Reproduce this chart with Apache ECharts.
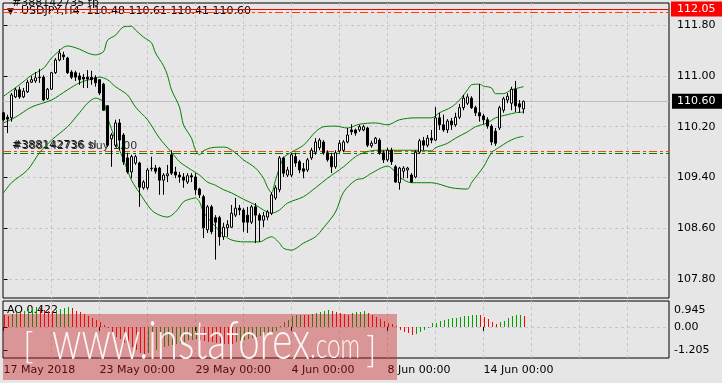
<!DOCTYPE html>
<html>
<head>
<meta charset="utf-8">
<script src="https://cdn.jsdelivr.net/npm/echarts@6.0.0/dist/echarts.min.js"></script>
<style>
html,body{margin:0;padding:0;background:#e6e6e6;}
#chart{width:722px;height:383px;}
</style>
</head>
<body>
<div id="chart"></div>
<script>
// ---------- data ----------
const symbolName = 'USDJPY,H4';
const ohlcLast = [110.48, 110.61, 110.41, 110.60];

const opens = [110.42,110.35,110.34,110.67,110.78,110.67,110.75,110.90,110.92,110.97,
110.98,110.64,110.79,111.05,111.25,111.33,111.28,111.06,111.05,111.00,
110.98,110.98,110.98,110.97,110.94,110.87,110.53,110.01,109.91,110.26,
110.07,109.71,109.49,109.63,109.63,109.24,109.24,109.54,109.55,109.55,
109.36,109.43,109.76,109.49,109.44,109.41,109.33,109.43,109.41,109.22,
109.10,108.58,108.94,108.77,108.77,108.47,108.61,108.62,108.81,108.92,
108.89,108.81,108.70,108.94,108.81,108.73,108.78,108.84,109.08,109.21,
109.71,109.44,109.44,109.73,109.65,109.54,109.52,109.71,109.80,109.87,
109.96,109.79,109.73,109.57,109.82,109.83,109.96,110.15,110.15,110.15,
110.15,110.18,109.90,109.94,109.99,109.79,109.68,109.83,109.57,109.32,
109.50,109.52,109.44,109.41,109.80,109.98,109.91,110.02,109.99,110.34,
110.23,110.15,110.29,110.23,110.35,110.50,110.57,110.65,110.50,110.42,
110.37,110.31,110.21,110.13,110.18,110.46,110.62,110.57,110.79,110.56,
110.48];
const closes = [110.31,110.32,110.70,110.78,110.67,110.76,110.90,110.94,110.97,110.98,
110.62,110.79,111.05,111.25,111.36,111.30,111.05,110.98,110.98,110.94,
110.95,110.95,110.94,110.89,110.73,110.46,109.91,110.07,110.26,109.99,
109.65,109.49,109.73,109.73,109.25,109.33,109.52,109.55,109.50,109.36,
109.44,109.46,109.47,109.44,109.41,109.36,109.43,109.41,109.21,109.13,
108.61,108.94,108.55,108.70,108.47,108.62,108.66,108.84,108.92,108.89,
108.70,108.70,108.94,108.81,108.73,108.80,108.86,109.13,109.24,109.71,
109.47,109.52,109.76,109.63,109.52,109.50,109.68,109.83,109.96,109.99,
109.79,109.68,109.57,109.79,109.94,109.96,110.07,110.12,110.10,110.20,
110.20,109.91,109.94,110.02,109.79,109.68,109.83,109.65,109.33,109.55,
109.55,109.55,109.33,109.80,109.98,109.91,110.02,109.99,110.34,110.23,
110.15,110.29,110.23,110.35,110.50,110.65,110.67,110.50,110.42,110.37,
110.31,110.21,109.96,109.94,110.50,110.64,110.68,110.79,110.53,110.51,
110.60];
const lows = [110.29,110.10,110.28,110.65,110.64,110.65,110.73,110.89,110.89,110.89,
110.61,110.62,110.78,111.03,111.23,111.25,111.03,110.95,110.92,110.86,
110.81,110.81,110.86,110.83,110.70,110.45,109.88,109.57,109.88,109.83,
109.60,109.46,109.39,109.60,108.94,109.21,109.21,109.50,109.46,109.13,
109.13,109.33,109.44,109.39,109.32,109.24,109.30,109.33,109.13,109.08,
108.45,108.53,108.51,108.11,108.33,108.42,108.47,108.61,108.78,108.81,
108.55,108.53,108.67,108.37,108.39,108.62,108.73,108.81,109.05,109.17,
109.41,109.41,109.41,109.57,109.47,109.39,109.49,109.68,109.76,109.83,
109.76,109.65,109.47,109.54,109.79,109.80,109.94,110.07,110.06,110.12,
110.13,109.88,109.87,109.93,109.76,109.63,109.65,109.60,109.32,109.21,
109.39,109.39,109.32,109.39,109.77,109.83,109.88,109.94,109.98,110.15,
110.12,110.10,110.15,110.20,110.32,110.46,110.54,110.48,110.37,110.28,
110.24,110.17,109.91,109.90,110.15,110.42,110.57,110.46,110.43,110.42,
110.41];
const highs = [110.43,110.39,110.73,110.81,110.83,110.81,110.94,111.00,111.06,111.11,
111.01,110.81,111.06,111.28,111.42,111.38,111.30,111.09,111.08,111.05,
111.03,111.09,111.08,111.01,110.95,110.89,110.54,110.10,110.31,110.32,
110.10,109.79,109.76,109.76,109.65,109.36,109.55,109.73,109.60,109.57,
109.47,109.60,109.83,109.57,109.49,109.47,109.47,109.47,109.47,109.24,
109.13,108.97,108.97,108.81,108.80,108.69,108.73,108.97,109.08,108.97,
108.92,108.94,108.97,109.00,108.84,108.86,108.89,109.17,109.28,109.74,
109.73,109.57,109.79,109.79,109.68,109.63,109.71,109.87,110.02,110.02,
109.99,109.83,109.79,109.83,109.99,109.99,110.18,110.24,110.17,110.23,
110.23,110.20,109.98,110.04,110.02,109.83,109.87,109.87,109.60,109.57,
109.58,109.57,109.47,109.83,110.01,110.04,110.07,110.15,110.51,110.42,
110.39,110.32,110.34,110.42,110.56,110.70,110.72,110.68,110.53,110.87,
110.40,110.35,110.24,110.18,110.53,110.67,110.73,110.83,110.92,110.62,
110.61];

// Bollinger bands as [bar index, price]
const upperBand = [[0,110.68],[4,110.86],[7,111.01],[10,111.12],[12,111.28],[15,111.45],[16,111.47],[19,111.42],[21,111.36],[23,111.33],[25,111.38],[26,111.56],[28,111.64],[30,111.77],[32,111.78],[33,111.72],[35,111.61],[37,111.52],[38,111.36],[40,111.16],[41,111.01],[42,110.78],[44,110.51],[45,110.23],[47,110.02],[48,109.83],[49,109.76],[50,109.82],[52,109.87],[55,109.88],[56,109.87],[58,109.79],[60,109.68],[63,109.55],[65,109.39],[66,109.25],[67,109.16],[68,109.36],[70,109.71],[72,109.80],[75,109.91],[78,110.12],[80,110.20],[83,110.21],[86,110.18],[89,110.24],[93,110.26],[96,110.23],[99,110.31],[103,110.34],[107,110.34],[109,110.42],[112,110.51],[114,110.62],[116,110.78],[117,110.86],[119,110.87],[120,110.84],[122,110.81],[123,110.72],[125,110.72],[127,110.78],[130,110.83]];
const middleBand = [[0,110.26],[3,110.35],[7,110.51],[12,110.62],[16,110.78],[19,110.89],[22,110.95],[24,110.98],[26,110.94],[28,110.83],[31,110.70],[33,110.51],[36,110.31],[39,110.02],[42,109.80],[44,109.65],[47,109.52],[49,109.44],[51,109.33],[53,109.28],[55,109.21],[57,109.16],[60,109.06],[63,108.97],[65,108.89],[67,108.84],[69,108.89],[71,109.00],[75,109.10],[78,109.24],[81,109.39],[85,109.57],[88,109.73],[90,109.79],[93,109.83],[97,109.83],[100,109.83],[103,109.83],[107,109.82],[108,109.87],[111,109.94],[113,110.02],[116,110.12],[118,110.20],[121,110.26],[123,110.34],[126,110.39],[128,110.42],[130,110.43]];
const lowerBand = [[0,109.16],[2,109.32],[6,109.52],[9,109.79],[12,109.99],[16,110.20],[19,110.42],[21,110.57],[23,110.65],[25,110.59],[26,110.35],[28,109.99],[30,109.68],[32,109.36],[34,109.16],[37,108.89],[39,108.81],[41,108.78],[43,108.86],[45,109.02],[46,109.05],[48,109.08],[49,109.02],[50,108.86],[52,108.70],[55,108.50],[57,108.42],[60,108.39],[64,108.39],[66,108.45],[67,108.47],[69,108.37],[70,108.29],[72,108.26],[75,108.37],[78,108.47],[80,108.61],[83,108.86],[85,109.17],[88,109.36],[90,109.39],[92,109.47],[96,109.58],[97,109.55],[99,109.41],[102,109.32],[107,109.32],[112,109.24],[116,109.22],[117,109.32],[120,109.57],[122,109.79],[124,109.88],[126,109.96],[128,110.02],[130,110.05]];

// Awesome Oscillator values
const aoValues = [0.45,0.42,0.50,0.56,0.55,0.60,0.68,0.72,0.74,0.70,
0.65,0.62,0.60,0.63,0.68,0.72,0.76,0.70,0.62,0.55,
0.48,0.41,0.34,0.27,0.19,0.09,-0.03,-0.24,-0.36,-0.47,
-0.59,-0.68,-0.77,-0.87,-0.97,-1.02,-0.98,-0.90,-0.86,-0.81,
-0.75,-0.73,-0.68,-0.63,-0.59,-0.55,-0.50,-0.48,-0.46,-0.49,
-0.52,-0.55,-0.57,-0.60,-0.62,-0.63,-0.64,-0.65,-0.58,-0.54,
-0.50,-0.46,-0.42,-0.38,-0.33,-0.30,-0.27,-0.21,-0.17,0.05,
0.20,0.27,0.40,0.45,0.47,0.45,0.44,0.49,0.54,0.58,
0.62,0.64,0.60,0.57,0.52,0.49,0.47,0.54,0.57,0.58,
0.60,0.52,0.45,0.36,0.29,0.24,0.16,0.11,0.02,-0.11,
-0.18,-0.24,-0.30,-0.26,-0.20,-0.11,-0.02,0.14,0.16,0.23,
0.26,0.30,0.33,0.35,0.38,0.40,0.43,0.45,0.47,0.44,
0.36,0.29,0.20,0.13,0.17,0.24,0.32,0.40,0.46,0.47,
0.422];
const aoLast = 0.422;

// levels (price lines)
const bidPrice = 110.60;
const alertLevel = 112.05;
const tpLevel = 112.00;
const slLevel = 109.81;
const openLevel = 109.78;
const tpLabel = '#388142735 tp';
const slLabel = '#388142736 sl';
const openLabel = '#388142736 buy 1.00';

// axis ticks / labels
const priceTicks = [111.80, 111.00, 110.20, 109.40, 108.60, 107.80];
const aoTicks = [0.945, 0.00, -1.205];
const timeTickIndex = [0, 24, 48, 72, 96, 120];
const timeTickLabels = ['17 May 2018','23 May 00:00','29 May 00:00','4 Jun 00:00','8 Jun 00:00','14 Jun 00:00'];
const gridTickIndex = [12,24,36,48,60,72,84,96,108,120,132,144,156];

// ---------- chart ----------
const FONT = 'DejaVu Sans';
const AO_UP = '#00a000', AO_DOWN = '#ff0000';
const candleData = opens.map((o, i) => [i, o, closes[i], lows[i], highs[i]]);
const aoData = aoValues.map((v, i) => [i, v]);
const X_MIN = -0.125, X_MAX = 166.375;
const gridDash = { color: '#c6c6c6', type: [3, 3], width: 1 };
const dashDot = [8, 3, 3, 3];

function measure(str, font) {
  const c = document.createElement('canvas').getContext('2d');
  c.font = font;
  return c.measureText(str).width;
}
const wmFont = '300 54px Lato';
const wmFontSmall = '300 36px Lato';
const wmScale = 258 / measure('www.instaforex', wmFont);
const comScale = 50 / measure('.com', wmFontSmall);
const wmFill = 'rgba(255,255,255,0.92)';

const chart = echarts.init(document.getElementById('chart'), null, { renderer: 'canvas' });
const option = {
  animation: false,
  backgroundColor: '#e6e6e6',
  textStyle: { fontFamily: FONT, fontSize: 11, color: '#000' },
  grid: [
    { left: 3, top: 3, width: 666, height: 295, show: true, borderColor: '#000', borderWidth: 1, backgroundColor: 'transparent', outerBoundsMode: 'none', containLabel: false },
    { left: 3, top: 301, width: 666, height: 57, show: true, borderColor: '#000', borderWidth: 1, backgroundColor: 'transparent', outerBoundsMode: 'none', containLabel: false }
  ],
  xAxis: [
    { gridIndex: 0, type: 'value', min: X_MIN, max: X_MAX, axisLine: { show: false },
      axisTick: { show: false, customValues: gridTickIndex }, axisLabel: { show: false },
      splitLine: { show: true, lineStyle: gridDash } },
    { gridIndex: 1, type: 'value', min: X_MIN, max: X_MAX, position: 'bottom', axisLine: { show: false },
      axisTick: { show: true, customValues: timeTickIndex, length: 4, lineStyle: { color: '#000' } },
      axisLabel: { show: true, customValues: timeTickIndex, align: 'left', margin: 7, color: '#000', fontFamily: FONT, fontSize: 11,
        formatter: v => timeTickLabels[timeTickIndex.indexOf(Math.round(v))] },
      splitLine: { show: false } },
    { gridIndex: 1, type: 'value', min: X_MIN, max: X_MAX, position: 'top', axisLine: { show: false },
      axisTick: { show: false, customValues: gridTickIndex }, axisLabel: { show: false },
      splitLine: { show: true, lineStyle: gridDash } }
  ],
  yAxis: [
    { gridIndex: 0, type: 'value', position: 'right', min: 107.507, max: 112.146, axisLine: { show: false },
      axisTick: { show: true, customValues: priceTicks, length: 4, lineStyle: { color: '#000' } },
      axisLabel: { customValues: priceTicks, formatter: v => v.toFixed(2), margin: 8, color: '#000', fontFamily: FONT, fontSize: 11 },
      splitLine: { show: true, lineStyle: gridDash } },
    { gridIndex: 1, type: 'value', position: 'right', min: -1.17, max: 0.98, axisLine: { show: false },
      axisTick: { show: false, customValues: [0] }, axisLabel: { show: false },
      splitLine: { show: true, lineStyle: gridDash } },
    { gridIndex: 1, type: 'value', position: 'right', min: -1.634, max: 1.43, axisLine: { show: false },
      axisTick: { show: true, customValues: aoTicks, length: 4, lineStyle: { color: '#000' } },
      axisLabel: { customValues: aoTicks, margin: 5, color: '#000', fontFamily: FONT, fontSize: 11,
        formatter: v => (v === 0 ? '0.00' : String(v)) },
      splitLine: { show: false } }
  ],
  series: [
    { type: 'line', name: 'BB upper', xAxisIndex: 0, yAxisIndex: 0, data: upperBand, showSymbol: false, smooth: 0.3,
      lineStyle: { color: '#008000', width: 1 }, z: 2, silent: true },
    { type: 'line', name: 'BB middle', xAxisIndex: 0, yAxisIndex: 0, data: middleBand, showSymbol: false, smooth: 0.3,
      lineStyle: { color: '#008000', width: 1 }, z: 2, silent: true },
    { type: 'line', name: 'BB lower', xAxisIndex: 0, yAxisIndex: 0, data: lowerBand, showSymbol: false, smooth: 0.3,
      lineStyle: { color: '#008000', width: 1 }, z: 2, silent: true },
    { type: 'candlestick', name: symbolName, xAxisIndex: 0, yAxisIndex: 0, data: candleData, barWidth: 2, z: 3, silent: true,
      itemStyle: { color: '#ffffff', color0: '#000000', borderColor: '#000000', borderColor0: '#000000', borderWidth: 1 },
      markLine: {
        symbol: ['none', 'none'], silent: true, animation: false, z: 1,
        data: [
          { yAxis: bidPrice, lineStyle: { color: '#bdbdbd', type: 'solid', width: 1 },
            label: { show: true, position: 'end', distance: 3, formatter: bidPrice.toFixed(2), backgroundColor: '#000', color: '#fff',
              fontFamily: FONT, fontSize: 11, padding: [2, 7, 1, 5], lineHeight: 12 } },
          { yAxis: alertLevel, lineStyle: { color: '#ff0000', type: 'solid', width: 1 },
            label: { show: true, position: 'end', distance: 2, formatter: alertLevel.toFixed(2), backgroundColor: '#ff0000', color: '#fff',
              fontFamily: FONT, fontSize: 11, padding: [2, 7, 1, 6], lineHeight: 12 } },
          { yAxis: tpLevel, lineStyle: { color: '#ff4000', type: dashDot, width: 1 },
            label: { show: true, position: 'insideStartTop', distance: [9, 4], formatter: tpLabel, color: '#111', fontFamily: FONT, fontSize: 11 } },
          { yAxis: slLevel, lineStyle: { color: '#ff4000', type: dashDot, width: 1 },
            label: { show: true, position: 'insideStartTop', distance: [9, 1], formatter: slLabel, color: '#111', fontFamily: FONT, fontSize: 11 } },
          { yAxis: openLevel, lineStyle: { color: '#008000', type: dashDot, width: 1 },
            label: { show: true, position: 'insideStartTop', distance: [10, 2], formatter: openLabel, color: '#333', fontFamily: FONT, fontSize: 11 } }
        ]
      } },
    { type: 'custom', name: 'AO', xAxisIndex: 1, yAxisIndex: 1, data: aoData, silent: true, z: 3, clip: true,
      encode: { x: 0, y: 1 },
      renderItem: (params, api) => {
        const i = api.value(0), v = api.value(1);
        const base = api.coord([i, 0]);
        const top = api.coord([i, v]);
        const up = i > 0 && aoValues[i] > aoValues[i - 1];
        const x = Math.round(base[0]) + 0.5;
        return { type: 'line', shape: { x1: x, y1: Math.round(base[1]), x2: x, y2: Math.round(top[1]) },
                 style: { stroke: up ? AO_UP : AO_DOWN, lineWidth: 1 } };
      } }
  ],
  graphic: [
    { type: 'text', left: 7, top: 7, silent: true, style: { text: '\u25BC', fontFamily: FONT, fontSize: 9, fill: '#000' } },
    { type: 'text', left: 21, top: 6, silent: true, style: { text: symbolName + '  ' + ohlcLast.map(v => v.toFixed(2)).join(' '), fontFamily: FONT, fontSize: 11, fill: '#000' } },
    { type: 'text', left: 7, top: 305, silent: true, style: { text: 'AO ' + aoLast.toFixed(3), fontFamily: FONT, fontSize: 11, fill: '#000' } },
    { type: 'rect', z: 100, silent: true, shape: { x: 3, y: 314, width: 394, height: 66 }, style: { fill: 'rgba(200,30,30,0.4)' } },
    { type: 'text', z: 101, silent: true, x: 23, y: 346, style: { text: '[', font: '300 36px Lato', fill: wmFill, verticalAlign: 'middle', textVerticalAlign: 'middle' } },
    { type: 'text', z: 101, silent: true, x: 52, y: 342, scaleX: wmScale, originX: 0, style: { text: 'www.instaforex', font: wmFont, fill: wmFill, verticalAlign: 'middle', textVerticalAlign: 'middle' } },
    { type: 'text', z: 101, silent: true, x: 310, y: 346, scaleX: comScale, originX: 0, style: { text: '.com', font: wmFontSmall, fill: wmFill, verticalAlign: 'middle', textVerticalAlign: 'middle' } },
    { type: 'text', z: 101, silent: true, x: 366, y: 350, style: { text: ']', font: '300 36px Lato', fill: wmFill, verticalAlign: 'middle', textVerticalAlign: 'middle' } }
  ]
};
chart.setOption(option);
</script>
</body>
</html>
